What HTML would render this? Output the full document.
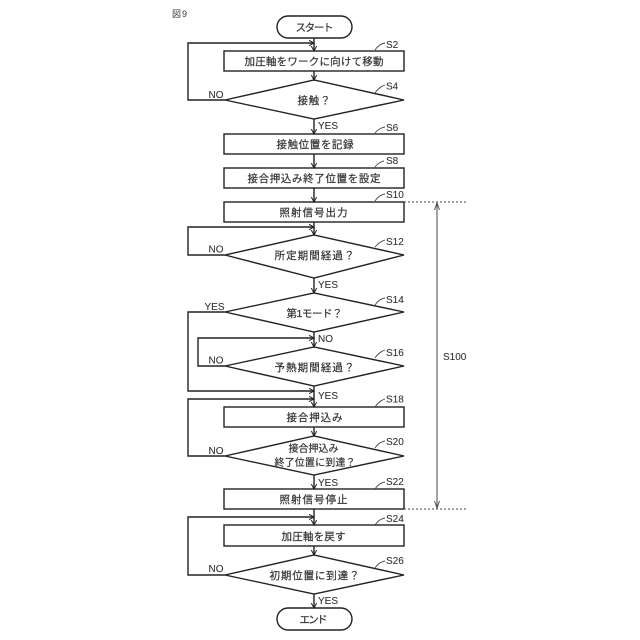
<!DOCTYPE html>
<html><head><meta charset="utf-8">
<style>
html,body{margin:0;padding:0;background:#fff}
svg{display:block}
text{font-family:"Liberation Sans","Noto Sans CJK JP",sans-serif;fill:#333;font-size:10.5px}
.t{stroke:#333;stroke-width:.2px}
.l{font-size:10px;stroke:#333;stroke-width:.1px}
</style></head><body>
<svg width="640" height="640" viewBox="0 0 640 640" xmlns="http://www.w3.org/2000/svg">
<defs>
<marker id="a" markerWidth="7" markerHeight="7" refX="5" refY="3" orient="auto" markerUnits="userSpaceOnUse"><path d="M0 0.300L5 3L0 5.700" fill="none" stroke="#222" stroke-width="1"/></marker>
</defs>
<g fill="#fff" stroke="#222" stroke-width="1.400">
<rect x="277" y="16" width="75" height="22" rx="11"/>
<rect x="224" y="51" width="180" height="20"/>
<polygon points="225,100 314,80 404,100 314,119"/>
<rect x="224" y="134" width="180" height="20"/>
<rect x="224" y="168" width="180" height="20"/>
<rect x="224" y="202" width="180" height="20"/>
<polygon points="225,255 314,235 404,255 314,278"/>
<polygon points="225,312 314,293 404,312 314,332"/>
<polygon points="225,366 314,347 404,366 314,386"/>
<rect x="224" y="407" width="180" height="20"/>
<polygon points="225,456 314,436 404,456 314,475"/>
<rect x="224" y="489" width="180" height="20"/>
<rect x="224" y="525" width="180" height="21"/>
<polygon points="225,575 314,555 404,575 314,594"/>
<rect x="277" y="608" width="75" height="22" rx="11"/>
</g>
<g fill="none" stroke="#222" stroke-width="1.400">
<path d="M314 38V51" marker-end="url(#a)"/>
<path d="M314 71V80" marker-end="url(#a)"/>
<path d="M314 119V134" marker-end="url(#a)"/>
<path d="M314 154V168" marker-end="url(#a)"/>
<path d="M314 188V202" marker-end="url(#a)"/>
<path d="M314 222V235" marker-end="url(#a)"/>
<path d="M314 278V293" marker-end="url(#a)"/>
<path d="M314 332V347" marker-end="url(#a)"/>
<path d="M314 386V407" marker-end="url(#a)"/>
<path d="M314 427V436" marker-end="url(#a)"/>
<path d="M314 475V489" marker-end="url(#a)"/>
<path d="M314 509V525" marker-end="url(#a)"/>
<path d="M314 546V555" marker-end="url(#a)"/>
<path d="M314 594V608" marker-end="url(#a)"/>
<path d="M225 100H188V43H314" marker-end="url(#a)"/>
<path d="M225 255H188V227H314" marker-end="url(#a)"/>
<path d="M225 312H188V391H314" marker-end="url(#a)"/>
<path d="M225 366H198V338H314" marker-end="url(#a)"/>
<path d="M225 456H188V399H314" marker-end="url(#a)"/>
<path d="M225 575H188V517H314" marker-end="url(#a)"/>
</g>
<g fill="none" stroke="#444" stroke-width=".9">
<path d="M437 202V509" stroke-width="1"/>
<path d="M434.500 210L437 203L439.500 210M434.500 501L437 508L439.500 501"/>
<path d="M404 202H467M404 509H467" stroke-dasharray="2 2"/>
<path d="M375 50Q379 44 385 43"/><path d="M375 93Q379 87 385 85"/><path d="M375 133Q379 128 385 127"/><path d="M375 167Q379 162 384 161"/><path d="M375 201Q379 195 385 194"/><path d="M375 247Q379 242 385 240"/><path d="M375 305Q379 299 385 298"/><path d="M375 358Q379 352 385 350"/><path d="M375 407Q379 401 385 399"/><path d="M375 448Q379 442 385 441"/><path d="M375 489Q379 483 385 482"/><path d="M375 525Q379 519 385 518"/><path d="M375 568Q379 562 385 561"/>
</g>
<text x="172" y="17" style="font-size:9px" textLength="15">図9</text>
<g>
<text class="t" x="295.500" y="31" textLength="38">スタート</text>
<text class="t" x="244.500" y="65" textLength="139">加圧軸をワークに向けて移動</text>
<text class="t" x="297.500" y="104" textLength="33">接触？</text>
<text class="t" x="276.500" y="148" textLength="77">接触位置を記録</text>
<text class="t" x="247.500" y="182" textLength="133">接合押込み終了位置を設定</text>
<text class="t" x="279.500" y="216" textLength="68">照射信号出力</text>
<text class="t" x="274.500" y="259" textLength="80">所定期間経過？</text>
<text class="t" x="286.500" y="317" textLength="56">第1モード？</text>
<text class="t" x="274.500" y="371" textLength="80">予熱期間経過？</text>
<text class="t" x="286.500" y="421" textLength="56">接合押込み</text>
<text class="t" x="288.500" y="452" textLength="50" style="font-size:10px">接合押込み</text>
<text class="t" x="274.500" y="466" textLength="81" style="font-size:10px">終了位置に到達？</text>
<text class="t" x="279.500" y="503" textLength="68">照射信号停止</text>
<text class="t" x="281.500" y="540" textLength="64">加圧軸を戻す</text>
<text class="t" x="269.500" y="579" textLength="90">初期位置に到達？</text>
<text class="t" x="299.500" y="623" textLength="28">エンド</text>
</g>
<g>
<text class="l" x="208.500" y="98">NO</text>
<text class="l" x="318" y="129">YES</text>
<text class="l" x="208.500" y="252.500">NO</text>
<text class="l" x="318" y="288">YES</text>
<text class="l" x="204.500" y="310">YES</text>
<text class="l" x="318" y="342">NO</text>
<text class="l" x="208.500" y="363.500">NO</text>
<text class="l" x="318" y="399">YES</text>
<text class="l" x="208.500" y="454">NO</text>
<text class="l" x="318" y="486">YES</text>
<text class="l" x="208.500" y="572">NO</text>
<text class="l" x="318" y="604">YES</text>
<text class="l" x="386" y="48">S2</text>
<text class="l" x="386" y="89.500">S4</text>
<text class="l" x="386" y="131">S6</text>
<text class="l" x="386" y="164">S8</text>
<text class="l" x="386" y="198">S10</text>
<text class="l" x="386" y="245">S12</text>
<text class="l" x="386" y="303">S14</text>
<text class="l" x="386" y="356">S16</text>
<text class="l" x="386" y="402.500">S18</text>
<text class="l" x="386" y="445">S20</text>
<text class="l" x="386" y="485">S22</text>
<text class="l" x="386" y="522">S24</text>
<text class="l" x="386" y="564">S26</text>
<text class="l" x="443" y="360">S100</text>
</g>
</svg>
</body></html>
